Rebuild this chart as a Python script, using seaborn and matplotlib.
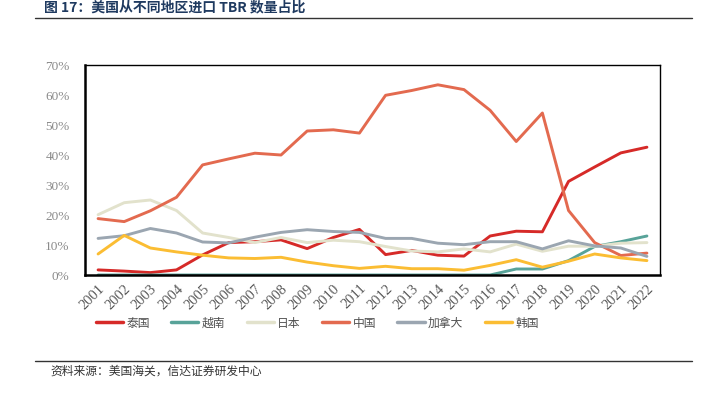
import matplotlib
matplotlib.use("Agg")
import matplotlib.pyplot as plt
import numpy as np
import pandas as pd
import seaborn as sns
from matplotlib.lines import Line2D

years = [str(y) for y in range(2001, 2023)]
series_names = ["泰国", "越南", "日本", "中国", "加拿大", "韩国"]

thailand = [1.7, 1.3, 0.8, 1.7, 6.7, 10.8, 11.1, 11.7, 8.8, 12.5, 15.2,
            6.8, 8.2, 6.6, 6.3, 13.0, 14.6, 14.4, 31.2, 36.0, 40.7, 42.6]
vietnam = [0, 0, 0, 0, 0, 0, 0, 0, 0, 0, 0,
           0, 0, 0, 0, 0, 2.0, 2.0, 4.8, 9.5, 11.1, 13.0]
japan = [20.1, 24.1, 25.0, 21.5, 14.0, 12.5, 10.8, 12.5, 10.8, 11.6, 11.1,
         9.5, 8.0, 7.7, 8.7, 7.7, 10.3, 7.9, 9.6, 9.6, 10.6, 10.8]
china = [18.8, 17.8, 21.4, 25.9, 36.7, 38.7, 40.6, 40.0, 48.0, 48.4, 47.3,
         59.9, 61.5, 63.4, 61.8, 54.9, 44.5, 54.0, 21.5, 10.8, 6.5, 7.3]
canada = [12.2, 13.1, 15.5, 14.0, 11.0, 10.7, 12.6, 14.2, 15.1, 14.5, 14.2,
          12.2, 12.2, 10.6, 10.1, 11.1, 11.1, 8.7, 11.4, 9.7, 9.0, 6.2]
korea = [7.0, 13.2, 9.0, 7.7, 6.6, 5.7, 5.5, 5.9, 4.3, 3.1, 2.2,
         2.9, 2.1, 2.1, 1.6, 3.2, 5.1, 2.6, 4.6, 7.0, 5.7, 4.8]

colors = ["#d62a28", "#58a399", "#e2e2cc", "#e36a4f", "#9ba6b1", "#fbbd33"]

values = [thailand, vietnam, japan, china, canada, korea]
rows = []
for name, vals in zip(series_names, values):
    for i, v in enumerate(vals):
        rows.append({"x": i, "year": years[i], "share": v / 100, "region": name})
df = pd.DataFrame(rows)

sns.set_style("white")
plt.rcParams["font.family"] = ["Noto Sans CJK SC", "DejaVu Sans"]

fig = plt.figure(figsize=(7.12, 3.95), dpi=100)
ax = fig.add_axes([85 / 712, 1 - 275 / 395, 575 / 712, 210 / 395])

sns.lineplot(data=df, x="x", y="share", hue="region", hue_order=series_names,
             palette=colors, linewidth=2.1, ax=ax, legend=False)

ax.set_xlim(-0.5, 21.5)
ax.set_ylim(0, 0.7)
ax.set_xlabel("")
ax.set_ylabel("")

ax.set_yticks(np.arange(0, 0.71, 0.1))
ax.set_yticklabels([f"{int(round(t * 100))}%" for t in np.arange(0, 0.71, 0.1)],
                   family="Liberation Serif", color="#8a8a8a", fontsize=9.5)
ax.tick_params(axis="y", length=0, pad=11)

ax.set_xticks(range(len(years)))
ax.set_xticklabels(years, rotation=45, ha="right", va="top",
                   family="Liberation Serif", color="#595959", fontsize=10.5,
                   rotation_mode="anchor")
ax.tick_params(axis="x", length=0, pad=5)
ax.set_xticks(np.arange(0.5, 21, 1), minor=True)
ax.tick_params(axis="x", which="minor", direction="in", length=4, width=1, color="black")

for side in ["top", "right"]:
    ax.spines[side].set_linewidth(1.0)
    ax.spines[side].set_color("black")
for side in ["left", "bottom"]:
    ax.spines[side].set_linewidth(1.8)
    ax.spines[side].set_color("black")

handles = [Line2D([0], [0], color=c, linewidth=2.5) for c in colors]
fig.legend(handles, series_names, loc="center left", ncol=6,
           bbox_to_anchor=(85 / 712, 1 - 323 / 395), frameon=False,
           handlelength=2.3, columnspacing=1.8, handletextpad=0.3,
           prop={"size": 8.5}, labelcolor="#505050")

fig.text(44 / 712, 1 - 7 / 395, "图 17：美国从不同地区进口 TBR 数量占比", ha="left", va="center",
         fontsize=10, fontweight="bold", color="#1f3a60")
fig.add_artist(Line2D([35 / 712, 692 / 712], [1 - 18 / 395, 1 - 18 / 395],
                      color="#333333", linewidth=1.0))
fig.add_artist(Line2D([35 / 712, 692 / 712], [1 - 361 / 395, 1 - 361 / 395],
                      color="#333333", linewidth=1.0))
fig.text(50 / 712, 1 - 371 / 395, "资料来源：美国海关，信达证券研发中心", ha="left", va="center",
         fontsize=8.5, color="#333333", style="italic")

fig.savefig("out.png", dpi=100)
